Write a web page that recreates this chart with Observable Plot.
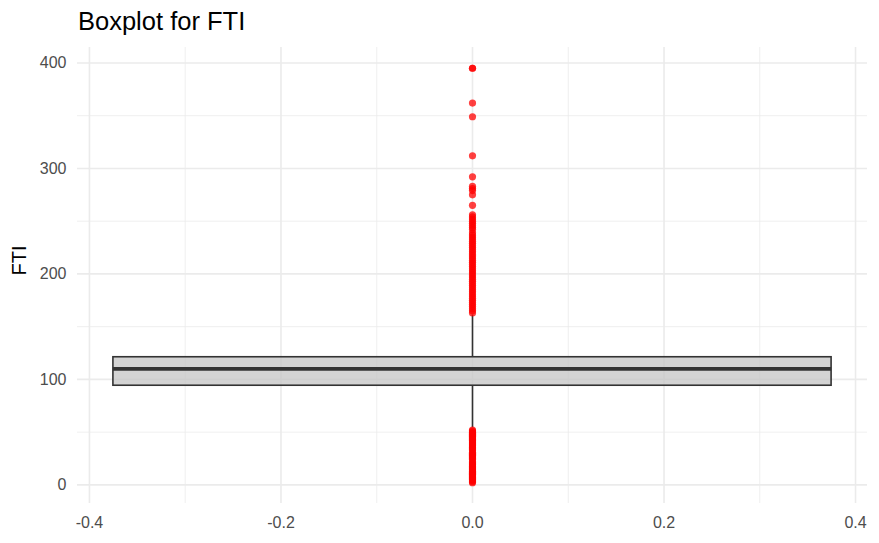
<!DOCTYPE html>
<html>
<head>
<meta charset="utf-8">
<script src="https://cdn.jsdelivr.net/npm/d3@7"></script>
<script src="https://cdn.jsdelivr.net/npm/@observablehq/plot@0.6"></script>
<style>
  html, body { margin: 0; padding: 0; background: #fff; }
  #wrap { width: 879px; height: 543px; font-family: "Liberation Sans", Arial, sans-serif; }
  #title { height: 43px; line-height: 43px; font-size: 25.5px; color: #000; padding-left: 78px; white-space: nowrap; }
  svg { display: block; }
</style>
</head>
<body>
<div id="wrap">
  <div id="title">Boxplot for FTI</div>
  <div id="chart"></div>
</div>
<script>
// Box statistics for FTI
const boxX = [-0.375, 0.375];
const q1 = 94;
const median = 110;
const q3 = 121;
const whiskerLow = 54;
const whiskerHigh = 161;

// Outliers
const outliersHigh = [395, 395, 362, 349, 312, 292, 283, 281, 279, 275, 265,
  256, 254, 252, 250, 248, 246, 244, 242, 239, 237, 235, 233, 231, 229, 227, 225,
  223, 221, 219, 217, 215, 213, 211, 209, 207, 205, 203, 201, 199, 197, 195, 193,
  191, 189, 187, 185, 183, 181, 179, 177, 175, 173, 171, 169, 167, 165, 163];
const outliersLow = [52, 51, 50, 49, 48, 47, 46, 45, 44, 43, 42, 41, 40, 39, 38,
  37, 36, 35, 34, 33, 31, 30, 29, 28, 27, 26, 25, 24, 22, 21, 20, 19, 18, 17, 16,
  15, 14, 13, 12, 11, 10, 9, 8, 7, 6, 5, 4, 3, 2];

// Ticks / grid
const yMajor = [0, 100, 200, 300, 400];
const yMinor = [50, 150, 250, 350];
const xMajor = [-0.4, -0.2, 0, 0.2, 0.4];
const xMinor = [-0.3, -0.1, 0.1, 0.3];

const outliers = outliersHigh.concat(outliersLow).map(v => ({x: 0, v}));
const box = [{x1: boxX[0], x2: boxX[1], q1, q3, median}];

const chart = Plot.plot({
  width: 879,
  height: 500,
  marginTop: 4,
  marginBottom: 40,
  marginLeft: 77,
  marginRight: 12,
  style: {fontFamily: "Liberation Sans, Arial, sans-serif", background: "#fff"},
  x: {domain: [-0.4125, 0.4125]},
  y: {domain: [-17.65, 414.65]},
  marks: [
    Plot.ruleY(yMinor, {stroke: "#ebebeb", strokeWidth: 0.8}),
    Plot.ruleX(xMinor, {stroke: "#ebebeb", strokeWidth: 0.8}),
    Plot.ruleY(yMajor, {stroke: "#ebebeb", strokeWidth: 1.6}),
    Plot.ruleX(xMajor, {stroke: "#ebebeb", strokeWidth: 1.6}),
    Plot.ruleX([0], {y1: q3, y2: whiskerHigh, stroke: "#333333", strokeWidth: 1.6}),
    Plot.ruleX([0], {y1: whiskerLow, y2: q1, stroke: "#333333", strokeWidth: 1.6}),
    Plot.rect(box, {x1: "x1", x2: "x2", y1: "q1", y2: "q3", fill: "#c4c4c4", fillOpacity: 0.75, stroke: "#333333", strokeWidth: 1.6}),
    Plot.ruleY(box, {y: "median", x1: "x1", x2: "x2", stroke: "#333333", strokeWidth: 3.6}),
    Plot.dot(outliers, {x: "x", y: "v", r: 3.6, fill: "red", fillOpacity: 0.75, stroke: "none"}),
    Plot.axisY(yMajor, {tickSize: 0, tickPadding: 11, fontSize: 16, fill: "#4d4d4d", label: null}),
    Plot.axisX(xMajor, {tickSize: 0, tickPadding: 13, fontSize: 16, fill: "#4d4d4d", label: null, tickFormat: d => d.toFixed(1)}),
    Plot.text(["FTI"], {frameAnchor: "left", rotate: -90, dx: -58, fontSize: 20, fill: "#000"})
  ]
});
document.getElementById("chart").appendChild(chart);
</script>
</body>
</html>
